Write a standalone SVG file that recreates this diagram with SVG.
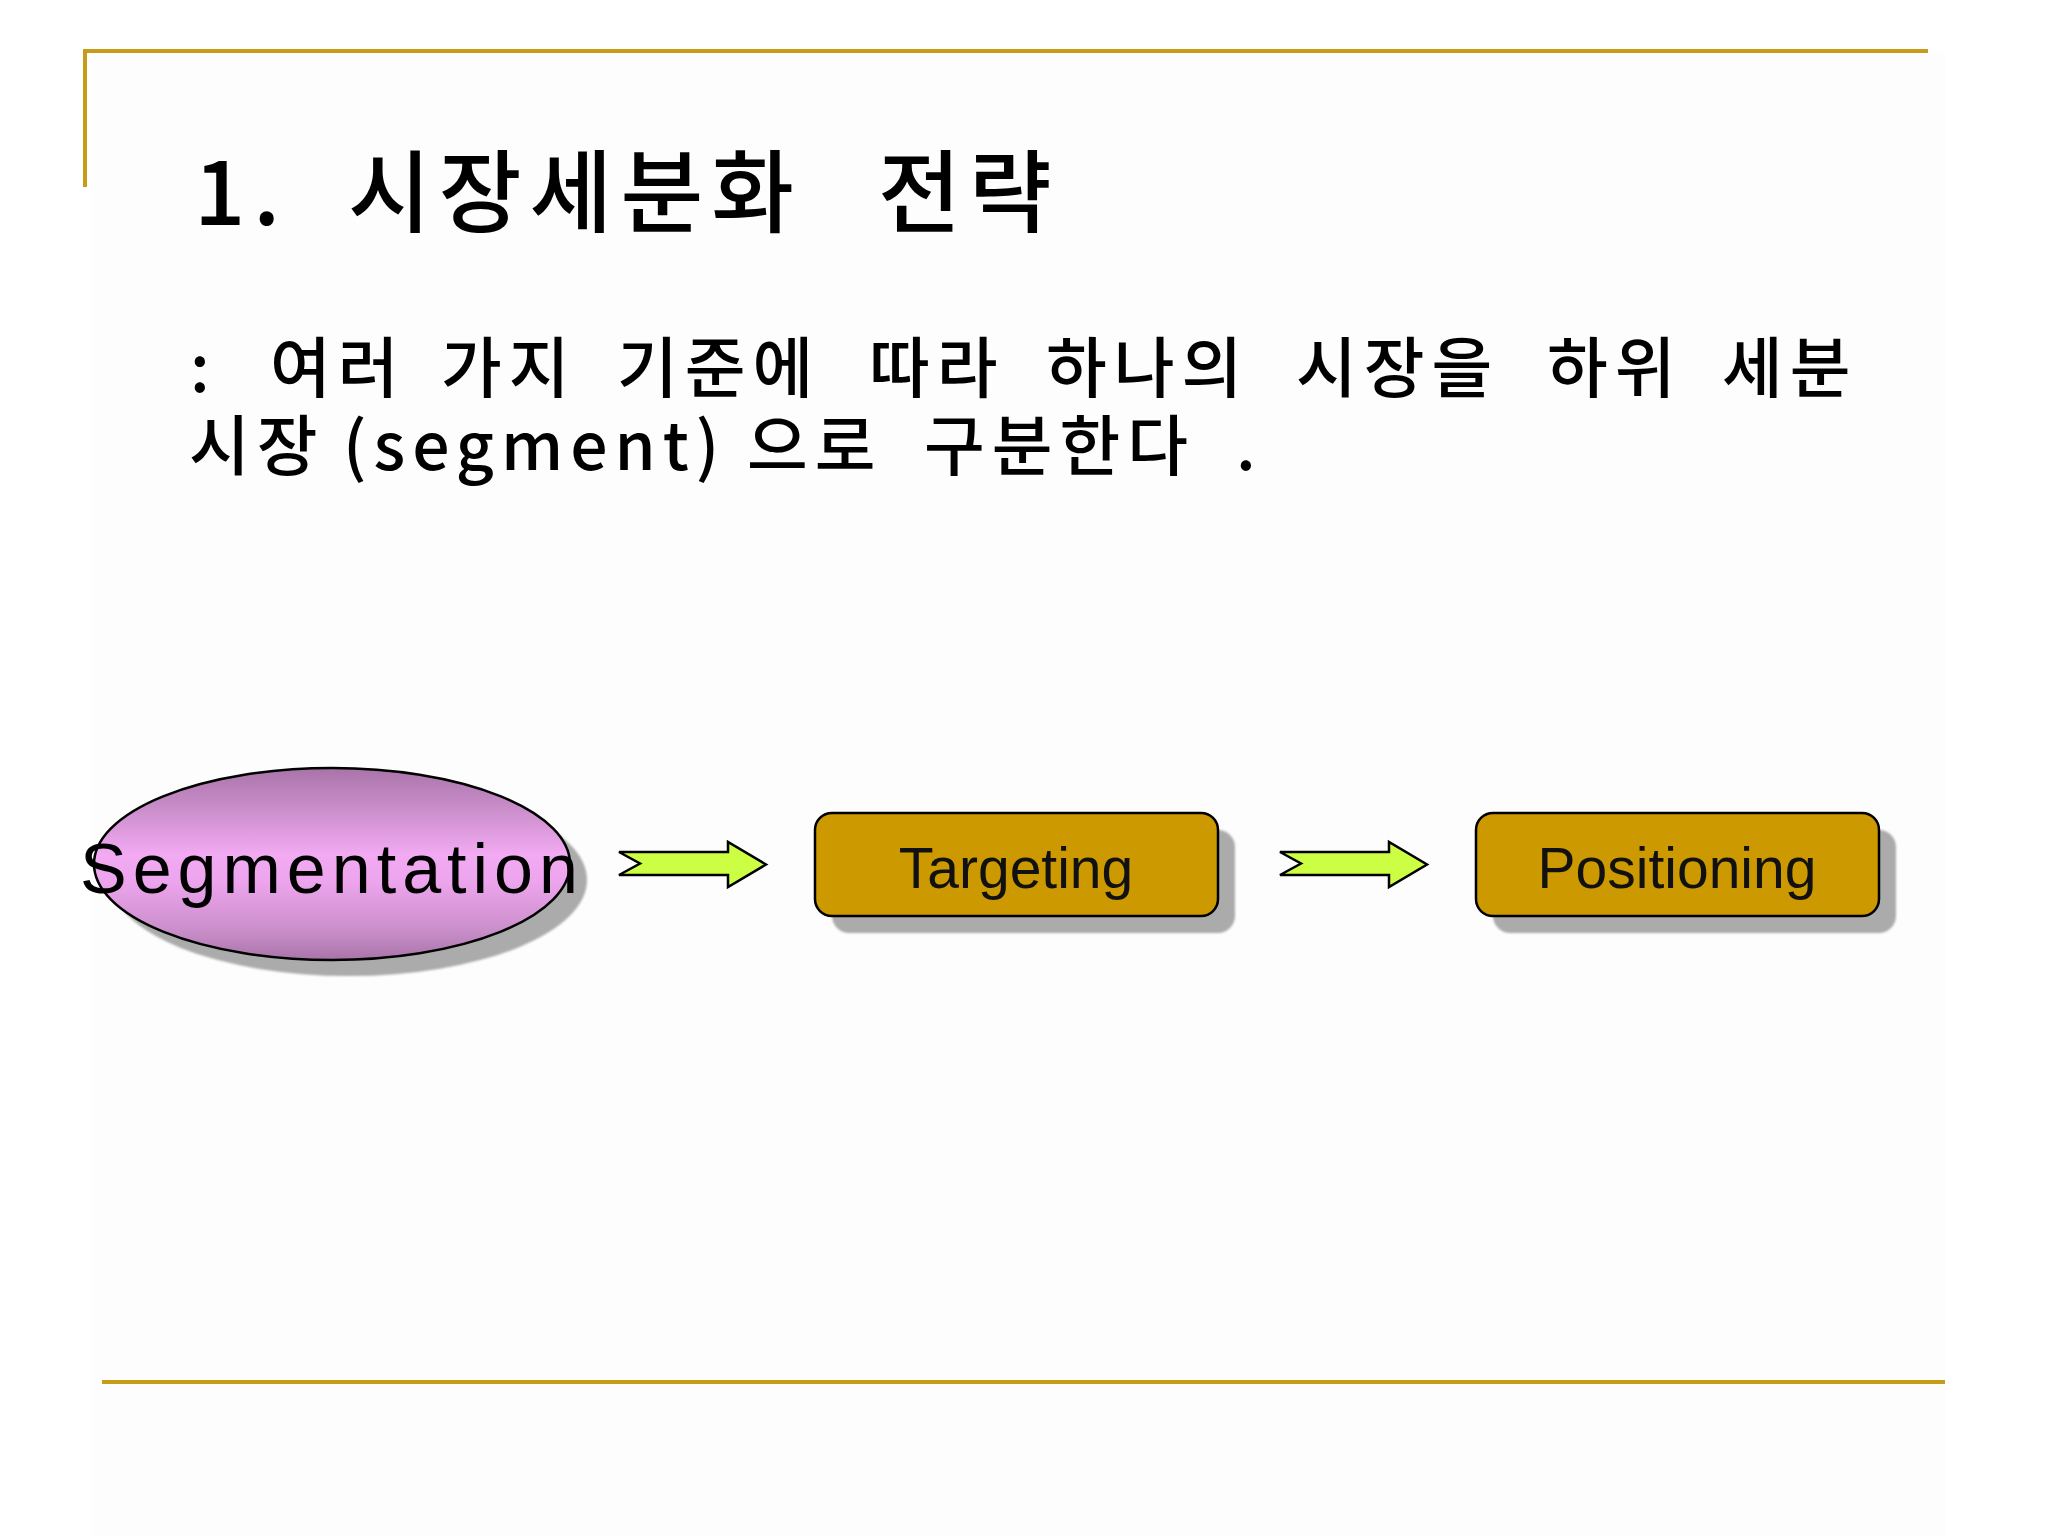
<svg xmlns="http://www.w3.org/2000/svg" width="2048" height="1536" viewBox="0 0 2048 1536">
  <defs>
    <style>
      .rule { stroke: #c69c18; stroke-width: 4; fill: none; }
      .ko { font-family: "Noto Sans CJK KR", "Noto Sans", sans-serif; fill: #000000; font-weight: 500; }
      .title { font-size: 90px; letter-spacing: 8px; }
      .sub { font-size: 66px; letter-spacing: 7px; }
      .lbl { font-family: "Liberation Sans", Arial, sans-serif; font-size: 57px; fill: #111111; text-anchor: middle; }
      .seg { font-family: "Liberation Sans", Arial, sans-serif; font-size: 70px; letter-spacing: 6px; fill: #000000; }
      .box { fill: #cc9900; stroke: #000000; stroke-width: 2.5; }
      .shadow { fill: #ababab; }
      .arrow { fill: #ccff44; stroke: #000000; stroke-width: 2.5; stroke-linejoin: miter; }
    </style>
    <linearGradient id="ellGrad" x1="0" y1="0" x2="0" y2="1">
      <stop offset="0" stop-color="#a974a9"/>
      <stop offset="0.2" stop-color="#c88cc8"/>
      <stop offset="0.45" stop-color="#f2aaf2"/>
      <stop offset="0.6" stop-color="#eca4ec"/>
      <stop offset="0.85" stop-color="#c98ec9"/>
      <stop offset="1" stop-color="#a974a9"/>
    </linearGradient>
    <filter id="soft" x="-10%" y="-10%" width="120%" height="120%">
      <feGaussianBlur stdDeviation="1.2"/>
    </filter>
  </defs>

  <rect x="0" y="0" width="2048" height="1536" fill="#ffffff"/>
  <rect x="92" y="53" width="1853" height="1483" fill="#fdfdfd"/>

  <!-- frame rules -->
  <g id="frame">
    <line class="rule" x1="83" y1="51" x2="1928" y2="51"/>
    <line class="rule" x1="85" y1="49" x2="85" y2="187"/>
    <line class="rule" x1="102" y1="1382" x2="1945" y2="1382"/>
  </g>

  <!-- title -->
  <g id="title">
    <text class="ko title" x="194" y="225">1.</text>
    <text class="ko title" x="348" y="225">시장세분화</text>
    <text class="ko title" x="878" y="225">전략</text>
  </g>

  <!-- subtitle -->
  <g id="subtitle">
    <text class="ko sub" x="190" y="392">:</text>
    <text class="ko sub" x="270" y="392">여러</text>
    <text class="ko sub" x="441" y="392">가지</text>
    <text class="ko sub" x="617" y="392">기준에</text>
    <text class="ko sub" x="869" y="392">따라</text>
    <text class="ko sub" x="1046" y="392">하나의</text>
    <text class="ko sub" x="1296" y="392">시장을</text>
    <text class="ko sub" x="1547" y="392">하위</text>
    <text class="ko sub" x="1722" y="392">세분</text>
    <text class="ko sub" x="189" y="470">시장</text>
    <text class="ko sub" x="343" y="470">(segment)</text>
    <text class="ko sub" x="747" y="470">으로</text>
    <text class="ko sub" x="924" y="470">구분한다</text>
    <text class="ko sub" x="1236" y="470">.</text>
  </g>

  <!-- nodes -->
  <g id="node-segmentation">
    <ellipse class="shadow" cx="349" cy="880" rx="238" ry="96" filter="url(#soft)"/>
    <ellipse cx="332" cy="864" rx="238" ry="96" fill="url(#ellGrad)" stroke="#000000" stroke-width="2.5"/>
    <text class="seg" x="80" y="893">Segmentation</text>
  </g>

  <g id="node-targeting">
    <rect class="shadow" x="832" y="830" width="403" height="103" rx="17" filter="url(#soft)"/>
    <rect class="box" x="815" y="813" width="403" height="103" rx="17"/>
    <text class="lbl" x="1016" y="888">Targeting</text>
  </g>

  <g id="node-positioning">
    <rect class="shadow" x="1493" y="830" width="403" height="103" rx="17" filter="url(#soft)"/>
    <rect class="box" x="1476" y="813" width="403" height="103" rx="17"/>
    <text class="lbl" x="1677" y="888">Positioning</text>
  </g>

  <!-- connectors -->
  <g id="connectors">
    <polygon class="arrow" points="619,852 728,852 728,842 766,864.5 728,887 728,875 619,875 640,863.5"/>
    <polygon class="arrow" points="1280,852 1389,852 1389,842 1427,864.5 1389,887 1389,875 1280,875 1301,863.5"/>
  </g>
</svg>
